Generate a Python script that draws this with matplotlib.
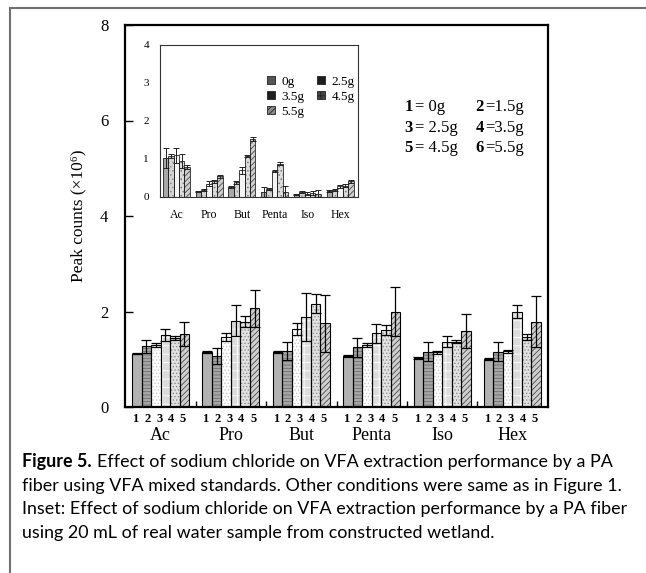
import matplotlib
matplotlib.use("Agg")
import matplotlib.pyplot as plt
from matplotlib.lines import Line2D
from matplotlib.patches import Patch
import numpy as np

plt.rcParams['font.family'] = ['Liberation Serif', 'DejaVu Serif']
plt.rcParams['hatch.linewidth'] = 0.6

# main chart: VFA mixed standards, 6 NaCl levels
acids = ["Ac", "Pro", "But", "Penta", "Iso", "Hex"]
main_vals = [
    [1.12, 1.27, 1.30, 1.51, 1.45, 1.53],
    [1.15, 1.07, 1.47, 1.81, 1.79, 2.07],
    [1.15, 1.18, 1.63, 1.88, 2.16, 1.75],
    [1.07, 1.25, 1.30, 1.54, 1.61, 2.00],
    [1.02, 1.16, 1.15, 1.37, 1.37, 1.59],
    [1.01, 1.16, 1.17, 2.00, 1.46, 1.79],
]
main_err = [
    [0.02, 0.14, 0.04, 0.12, 0.04, 0.25],
    [0.02, 0.16, 0.09, 0.32, 0.11, 0.39],
    [0.02, 0.19, 0.12, 0.50, 0.20, 0.59],
    [0.02, 0.20, 0.04, 0.19, 0.11, 0.52],
    [0.02, 0.20, 0.03, 0.11, 0.04, 0.36],
    [0.02, 0.20, 0.03, 0.14, 0.06, 0.54],
]
bar_numbers = ["1", "2", "3", "4", "5"]
key_rows = [("1", "= 0g", "2", "=1.5g"),
            ("3", "= 2.5g", "4", "=3.5g"),
            ("5", "= 4.5g", "6", "=5.5g")]

# inset: real water sample, 5 NaCl levels
inset_labels = ["0g", "2.5g", "3.5g", "4.5g", "5.5g"]
inset_vals = [
    [1.03, 1.07, 1.10, 0.95, 0.80],
    [0.15, 0.19, 0.35, 0.41, 0.54],
    [0.26, 0.39, 0.70, 1.07, 1.53],
    [0.13, 0.22, 0.68, 0.88, 0.13],
    [0.06, 0.13, 0.09, 0.11, 0.09],
    [0.16, 0.19, 0.28, 0.30, 0.42],
]
inset_err = [
    [0.27, 0.05, 0.20, 0.18, 0.05],
    [0.02, 0.03, 0.06, 0.03, 0.03],
    [0.03, 0.04, 0.10, 0.03, 0.06],
    [0.13, 0.03, 0.03, 0.05, 0.15],
    [0.02, 0.02, 0.04, 0.05, 0.10],
    [0.02, 0.03, 0.03, 0.04, 0.04],
]

# (face, hatch, hatch colour)
main_styles = [
    ('#b2b2b2', None, '#b2b2b2'),
    ('#a6a6a6', '-----', '#6e6e6e'),
    ('#ffffff', '.....', '#c8c8c8'),
    ('#dcdcdc', '++', '#ffffff'),
    ('#e2e2e2', '.....', '#8c8c8c'),
    ('#cfcfcf', '//////', '#4a4a4a'),
]
inset_styles = [
    ('#a8a8a8', None, '#a8a8a8'),
    ('#d4d4d4', '....', '#909090'),
    ('#f4f4f4', None, '#f4f4f4'),
    ('#dcdcdc', '....', '#7a7a7a'),
    ('#cfcfcf', '//////', '#4a4a4a'),
]
# legend swatches in the original print much darker than the bars
legend_swatch = [('#555555', None), ('#1e1e1e', None), ('#1e1e1e', None),
                 ('#444444', '++'), ('#8a8a8a', '//////')]

W, H = 646, 573
fig = plt.figure(figsize=(W / 100, H / 100), dpi=100)

def fx(px):
    return px / W

def fy(py):
    return 1 - py / H

# outer grey frame of the figure box
fig.add_artist(Line2D([fx(10), fx(10)], [fy(8), 0], color='#707070', lw=1.5))
fig.add_artist(Line2D([fx(10), 1], [fy(8), fy(8)], color='#707070', lw=1.5))

# ---- main axes
ax = fig.add_axes([fx(125), fy(407), fx(548) - fx(125), fy(25) - fy(407)])
x = np.arange(len(acids))
bw = 0.135
vals = np.array(main_vals)
errs = np.array(main_err)
for i, (fc, hatch, hc) in enumerate(main_styles):
    pos = x + (i - 2.5) * bw
    ax.bar(pos, vals[:, i], bw, color=fc, hatch=hatch, edgecolor=hc, lw=0, zorder=2)
    ax.bar(pos, vals[:, i], bw, fill=False, edgecolor='black', lw=0.8, zorder=3)
    ax.errorbar(pos, vals[:, i], yerr=errs[:, i], fmt='none', ecolor='black',
                elinewidth=0.9, capsize=3.3, capthick=0.9, zorder=4)

ax.set_xlim(-0.505, 5.505)
ax.set_ylim(0, 8)
ax.set_yticks([0, 2, 4, 6, 8])
ax.tick_params(axis='y', direction='in', length=6, width=1, labelsize=12, pad=12,
               right=False)
ax.set_xticks(x[:-1] + 0.5)
ax.set_xticklabels([])
ax.tick_params(axis='x', direction='in', length=4, width=1)
for s in ax.spines.values():
    s.set_linewidth(1.6)
ax.set_ylabel("Peak counts (×10⁶)", fontsize=12.5, labelpad=10)

for g, name in enumerate(acids):
    for k, num in enumerate(bar_numbers):
        ax.text(g - 0.36 + k * 0.17, -0.12, num, ha='center', va='top',
                fontsize=9, fontweight='bold')
    ax.text(g, -0.42, name, ha='center', va='top', fontsize=13)

# key for bar numbers
for r, (n1, t1, n2, t2) in enumerate(key_rows):
    yy = fy(107 + r * 20.5)
    fig.text(fx(413), yy, n1, ha='right', va='center', fontsize=12, fontweight='bold')
    fig.text(fx(415), yy, t1, ha='left', va='center', fontsize=12)
    fig.text(fx(484), yy, n2, ha='right', va='center', fontsize=12, fontweight='bold')
    fig.text(fx(485), yy, t2, ha='left', va='center', fontsize=12)

# ---- inset axes
axi = fig.add_axes([fx(160), fy(197), fx(358) - fx(160), fy(45) - fy(197)])
ibw = 0.165
ivals = np.array(inset_vals)
ierrs = np.array(inset_err)
for i, (fc, hatch, hc) in enumerate(inset_styles):
    pos = x + (i - 2) * ibw
    axi.bar(pos, ivals[:, i], ibw, color=fc, hatch=hatch, edgecolor=hc, lw=0, zorder=2)
    axi.bar(pos, ivals[:, i], ibw, fill=False, edgecolor='#222222', lw=0.6, zorder=3)
    axi.errorbar(pos, ivals[:, i], yerr=ierrs[:, i], fmt='none', ecolor='#222222',
                 elinewidth=0.7, capsize=2, capthick=0.7, zorder=4)
handles = [Patch(facecolor=fc, hatch=h, edgecolor='#222222', lw=0.6)
           for fc, h in legend_swatch]

axi.set_xlim(-0.5, 5.55)
axi.set_ylim(0, 4)
axi.set_yticks([0, 1, 2, 3, 4])
axi.set_xticks(x)
axi.set_xticklabels(acids)
axi.tick_params(axis='y', direction='in', length=0, labelsize=8, pad=8)
axi.tick_params(axis='x', length=0, labelsize=8.5, pad=9)
for s in axi.spines.values():
    s.set_linewidth(0.8)
    s.set_color('#333333')

# legend fills column-major, reorder so it reads row by row like the original
order = [0, 2, 4, 1, 3]
axi.legend([handles[i] for i in order], [inset_labels[i] for i in order],
           ncol=2, loc='upper left', bbox_to_anchor=(0.505, 0.84), frameon=False,
           fontsize=9.5, handlelength=0.6, handleheight=0.6, handletextpad=0.5,
           columnspacing=1.0, labelspacing=0.22, borderpad=0)

# ---- caption
cap_first = "Effect of sodium chloride on VFA extraction performance by a PA"
cap_lines = [
    "fiber using VFA mixed standards. Other conditions were same as in Figure 1.",
    "Inset: Effect of sodium chloride on VFA extraction performance by a PA fiber",
    "using 20 mL of real water sample from constructed wetland.",
]
cap_font = ['Lato', 'DejaVu Sans']
renderer = fig.canvas.get_renderer()
probe = fig.text(0, 0, cap_lines[1], fontsize=10, family=cap_font)
w10 = probe.get_window_extent(renderer).width
probe.remove()
cap_size = 10 * 606 / w10

t = fig.text(fx(22), fy(462), "Figure 5.", ha='left', va='center', fontsize=cap_size,
             fontweight='bold', family=cap_font)
bb = t.get_window_extent(renderer)
fig.text(fx(bb.x1 + 5), fy(462), cap_first, ha='left', va='center',
         fontsize=cap_size, family=cap_font)
for j, line in enumerate(cap_lines):
    fig.text(fx(22), fy(486 + j * 23.3), line, ha='left', va='center',
             fontsize=cap_size, family=cap_font)

fig.savefig("out.png", dpi=100)
